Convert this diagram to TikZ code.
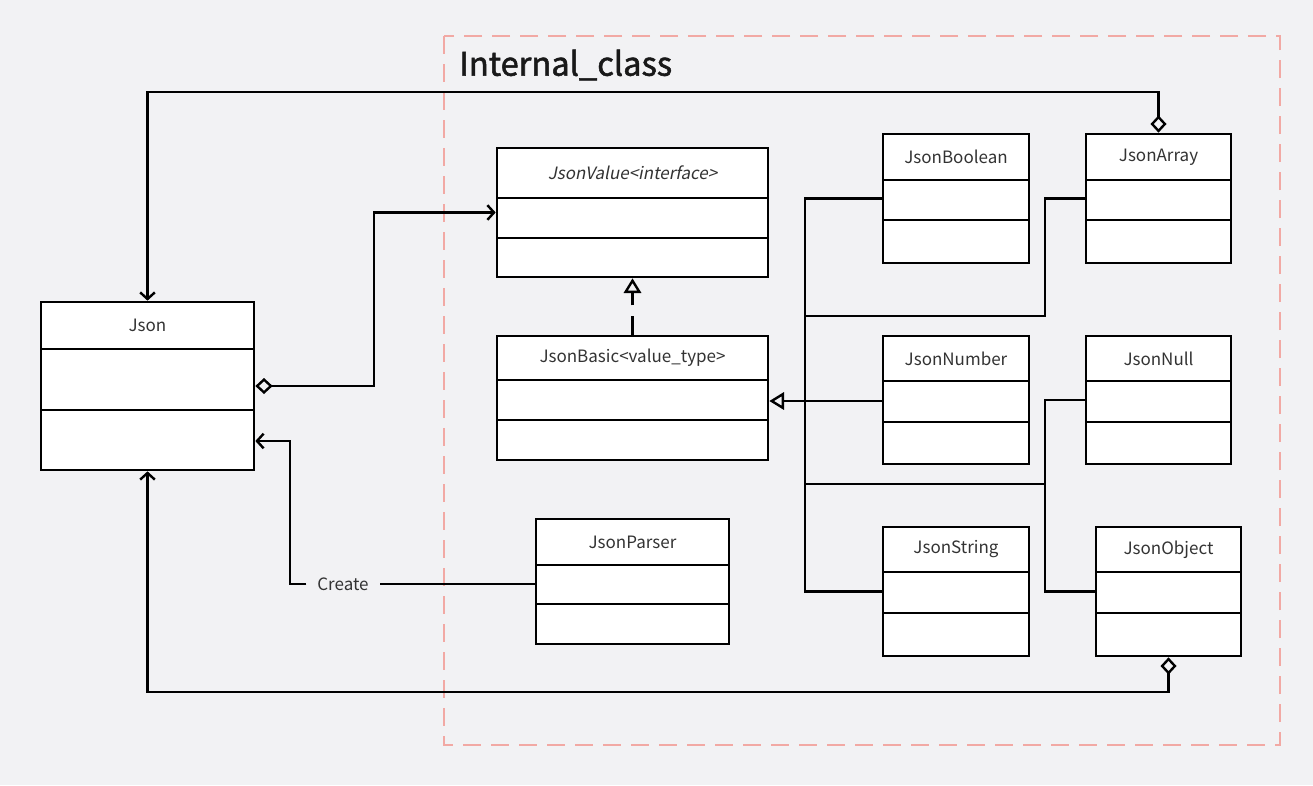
\documentclass[tikz,border=0pt]{standalone}
\usepackage{fontspec}
\setmainfont{Noto Sans CJK SC}
\newfontfamily\slantfont[FakeSlant=0.2]{Noto Sans CJK SC}
\newfontfamily\titlefont[FakeBold=1.6]{Noto Sans CJK SC}
\usetikzlibrary{arrows.meta,fit}
\definecolor{bg}{HTML}{F2F2F4}
\definecolor{frame}{HTML}{F2A9A4}
\definecolor{txt}{HTML}{333333}
\tikzset{
  cls/.style={draw=black, fill=white, line width=2pt, inner sep=0pt},
  ttl/.style={text=txt, font=\fontsize{12.75pt}{14pt}\selectfont, inner sep=0pt},
  conn/.style={draw=black, line width=1.8pt},
  opentip/.style={-{Straight Barb[length=5pt,width=11pt,line width=1.8pt]}},
  aggarrow/.style={{Diamond[open,length=13pt,width=12pt,line width=1.8pt]}-{Straight Barb[length=5pt,width=11pt,line width=1.8pt]}},
  inh/.style={-{Triangle[open,length=11pt,width=13pt,line width=1.8pt]}},
}
\newcommand{\umlbox}[8]{%
  \node[cls, fit={(#2,#3) (#4,#5)}] (#1) {};
  \draw[line width=2pt] (#2,#6) -- (#4,#6);
  \draw[line width=2pt] (#2,#7) -- (#4,#7);
  \node[ttl] at ({(#2+#4)/2},{(#3+#6)/2}) {#8};
}
\begin{document}
\begin{tikzpicture}[x=0.75pt,y=-0.75pt]
\fill[bg] (0,0) rectangle (1313,785);
\useasboundingbox (0,0) rectangle (1313,785);
% frame
\draw[frame, line width=1.6pt, dash pattern=on 13.5pt off 7.5pt] (444,36) rectangle (1280,745);
\node[anchor=west, text=black!90, font=\titlefont\fontsize{24.5pt}{28pt}\selectfont, inner sep=0pt] (title) at (459,65) {Internal\_class};
% boxes
\umlbox{jvalue}{497}{148}{768}{277}{198}{238}{\slantfont JsonValue<interface>}
\umlbox{jbasic}{497}{336}{768}{460}{380}{420}{JsonBasic<value\_type>}
\umlbox{json}{41}{302}{254}{470}{349}{410}{Json}
\umlbox{jparser}{536}{519}{729}{644}{565}{604}{JsonParser}
\umlbox{jbool}{883}{134}{1029}{263}{180}{220}{JsonBoolean}
\umlbox{jarray}{1086}{134}{1231}{263}{180}{220}{JsonArray}
\umlbox{jnumber}{883}{336}{1029}{464}{381}{422}{JsonNumber}
\umlbox{jnull}{1086}{336}{1231}{464}{381}{422}{JsonNull}
\umlbox{jstring}{883}{527}{1029}{656}{572}{613}{JsonString}
\umlbox{jobject}{1096}{527}{1241}{656}{572}{613}{JsonObject}
\coordinate (y441) at (0,441);
\coordinate (y401) at (0,401);
% connectors
\draw[conn, aggarrow] (jarray.north) -- (1158.5,92) -| (json.north);
\draw[conn, aggarrow] (json.east) -- (374,386) |- (jvalue.west);
\draw[conn, inh, dash pattern=on 14pt off 8pt] (jbasic.north) -- (jvalue.south);
\draw[conn] (jbool.west) -| (805,400) |- (jstring.west);
\draw[conn, inh] (jnumber.west |- y401) -- (jbasic.east |- y401);
\draw[conn] (jarray.west) -| (1045,316) -- (805,316);
\draw[conn] (jnull.west) -| (1045,484) -- (805,484);
\draw[conn] (jobject.west) -| (1045,484);
\draw[conn, aggarrow] (jobject.south) -- (1168.5,692) -| (json.south);
\node[ttl, fill=bg, inner xsep=8pt, inner ysep=4pt] (create) at (343,584) {Create};
\draw[conn] (jparser.west |- create) -- (create.east);
\draw[conn, opentip] (create.west) -| (290,441) -- (json.east |- y441);
\end{tikzpicture}
\end{document}
